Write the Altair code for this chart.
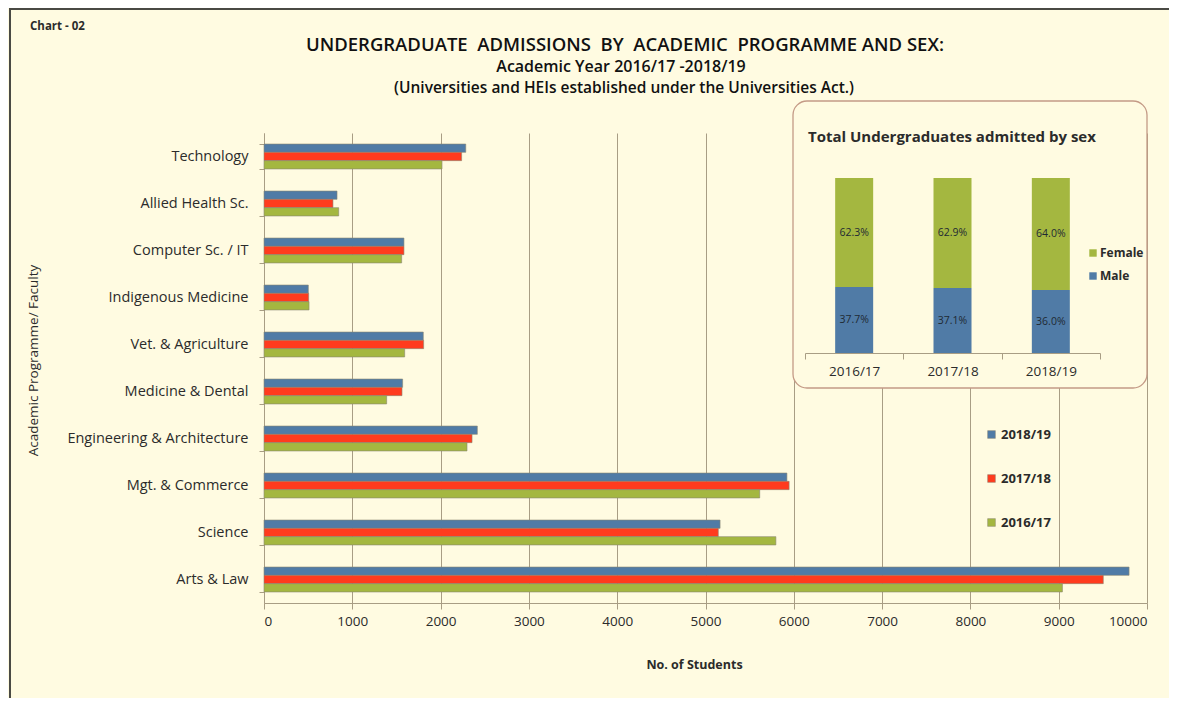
import altair as alt
import pandas as pd

# ---------------- data ----------------
categories = [
    "Technology", "Allied Health Sc.", "Computer Sc. / IT", "Indigenous Medicine",
    "Vet. & Agriculture", "Medicine & Dental", "Engineering & Architecture",
    "Mgt. & Commerce", "Science", "Arts & Law",
]
years = ["2018/19", "2017/18", "2016/17"]
students_2018_19 = [2285, 827, 1585, 502, 1804, 1570, 2416, 5922, 5165, 9797]
students_2017_18 = [2238, 781, 1585, 506, 1808, 1563, 2356, 5947, 5145, 9505]
students_2016_17 = [2016, 846, 1559, 510, 1593, 1389, 2299, 5614, 5797, 9042]
x_ticks = [0, 1000, 2000, 3000, 4000, 5000, 6000, 7000, 8000, 9000, 10000]

inset_years = ["2016/17", "2017/18", "2018/19"]
male_pct = [37.7, 37.1, 36.0]
female_pct = [62.3, 62.9, 64.0]
sexes = ["Female", "Male"]

title_lines = [
    "UNDERGRADUATE\u00a0 ADMISSIONS\u00a0 BY\u00a0 ACADEMIC\u00a0 PROGRAMME AND SEX:",
    "Academic Year 2016/17 -2018/19",
    "(Universities and HEIs established under the Universities Act.)",
]

# ---------------- style ----------------
BG = "#FFFBE1"
BLUE = "#507BA6"
RED = "#FF3B1E"
GREEN = "#A4B740"
GRID = "#A89D84"
FONT = "Open Sans"
TXT = "#2b2b2b"

rows = []
for yr, vals in zip(years, [students_2018_19, students_2017_18, students_2016_17]):
    for c, v in zip(categories, vals):
        rows.append({"Programme": c, "Year": yr, "Students": v})
main_df = pd.DataFrame(rows)

inset_rows = []
for yr, m, f in zip(inset_years, male_pct, female_pct):
    inset_rows.append({"Year": yr, "Sex": "Male", "Pct": m, "order": 0})
    inset_rows.append({"Year": yr, "Sex": "Female", "Pct": f, "order": 1})
inset_df = pd.DataFrame(inset_rows)

H = 470
W = 883

main = alt.Chart(main_df).mark_bar(stroke="#8a8672", strokeWidth=0.6).encode(
    x=alt.X(
        "Students:Q",
        scale=alt.Scale(domain=[0, 10000], nice=False),
        axis=alt.Axis(
            values=x_ticks, format="d", grid=True, gridColor=GRID, gridWidth=1,
            domainColor=GRID, tickColor=GRID, tickSize=6,
            labelFont=FONT, labelFontSize=13.5, labelColor=TXT, labelPadding=5,
            title="No. of Students", titleFont=FONT, titleFontSize=12.5,
            titleFontWeight="bold", titleColor=TXT, titleX=430, titleAlign="center",
            titlePadding=31,
        ),
    ),
    y=alt.Y(
        "Programme:N", sort=categories,
        scale=alt.Scale(paddingInner=0.47, paddingOuter=0.235),
        axis=alt.Axis(
            tickBand="extent", domainColor=GRID, tickColor=GRID, tickSize=5,
            labelFont=FONT, labelFontSize=14.5, labelColor=TXT, labelPadding=11,
            labelLimit=300,
            title="Academic Programme/ Faculty", titleFont=FONT, titleFontSize=13.5,
            titleFontWeight="normal", titleColor=TXT, titleX=-231, titleY=227,
            titleAngle=-90, titleAlign="center", titleBaseline="middle",
        ),
    ),
    yOffset=alt.YOffset("Year:N", sort=years, scale=alt.Scale(paddingInner=0, paddingOuter=0)),
    color=alt.Color(
        "Year:N", sort=years,
        scale=alt.Scale(domain=years, range=[BLUE, RED, GREEN]),
        legend=alt.Legend(
            title=None, orient="none", legendX=721, legendY=295,
            symbolType="square", symbolSize=60, symbolStrokeWidth=0.5,
            labelFont=FONT, labelFontSize=13, labelFontWeight="bold", labelColor=TXT,
            rowPadding=30, labelOffset=3,
        ),
    ),
)

box = alt.Chart(pd.DataFrame({"k": [0]})).mark_rect(
    fill=BG, stroke="#C49A86", strokeWidth=1.3, cornerRadius=14
).encode(x=alt.value(529), x2=alt.value(883), y=alt.value(-32), y2=alt.value(255))

inset_title = alt.Chart(pd.DataFrame({"t": ["Total Undergraduates admitted by sex"]})).mark_text(
    font=FONT, fontSize=15, fontWeight="bold", color=TXT, align="left", baseline="middle"
).encode(x=alt.value(544), y=alt.value(4), text="t:N")

inset_base = alt.Chart(inset_df).transform_stack(
    stack="Pct", groupby=["Year"], as_=["p0", "p1"], sort=[alt.SortField("order", order="ascending")]
).transform_calculate(
    mid="(datum.p0 + datum.p1) / 2",
    label="format(datum.Pct, '.1f') + '%'",
)

inset_x = alt.X(
    "Year:N", sort=inset_years,
    scale=alt.Scale(domain=inset_years, range=[541, 836], paddingInner=0, paddingOuter=0),
    axis=alt.Axis(
        orient="bottom", offset=-(H - 220), tickBand="extent", grid=False, zindex=1,
        domainColor=GRID, tickColor=GRID, tickSize=6, labelAngle=0,
        labelFont=FONT, labelFontSize=13.5, labelColor=TXT, labelPadding=5, title=None,
    ),
)
inset_y_scale = alt.Scale(domain=[0, 100], range=[220, 45], nice=False)

inset_bars = inset_base.mark_bar(width=38).encode(
    x=inset_x,
    y=alt.Y("p0:Q", scale=inset_y_scale, axis=None),
    y2="p1:Q",
    color=alt.Color(
        "Sex:N",
        scale=alt.Scale(domain=sexes, range=[GREEN, BLUE]),
        legend=alt.Legend(
            title=None, orient="none", legendX=823, legendY=114,
            symbolType="square", symbolSize=55, symbolStrokeWidth=0,
            labelFont=FONT, labelFontSize=12, labelFontWeight="bold", labelColor=TXT,
            rowPadding=11, labelOffset=1,
        ),
    ),
)
inset_text = inset_base.mark_text(font=FONT, fontSize=10.5, color="#1f2a33").encode(
    x=alt.X("Year:N", sort=inset_years),
    y=alt.Y("mid:Q"),
    text="label:N",
)
inset = alt.layer(inset_bars, inset_text)

chart_label = alt.Chart(pd.DataFrame({"t": ["Chart - 02"]})).mark_text(
    font=FONT, fontSize=11.5, fontWeight="bold", color=TXT, align="left", baseline="middle"
).encode(x=alt.value(-234), y=alt.value(-106), text="t:N")

title_main = alt.Chart(pd.DataFrame({"t": [title_lines[0]]})).mark_text(
    font=FONT, fontSize=18.5, fontWeight=600, color="#111", align="center", baseline="middle"
).encode(x=alt.value(361), y=alt.value(-88), text="t:N")
title_sub1 = alt.Chart(pd.DataFrame({"t": [title_lines[1]]})).mark_text(
    font=FONT, fontSize=16, fontWeight=600, color="#111", align="center", baseline="middle"
).encode(x=alt.value(357), y=alt.value(-66), text="t:N")
title_sub2 = alt.Chart(pd.DataFrame({"t": [title_lines[2]]})).mark_text(
    font=FONT, fontSize=15.5, fontWeight=600, color="#111", align="center", baseline="middle"
).encode(x=alt.value(360), y=alt.value(-45), text="t:N")

border = alt.Chart(pd.DataFrame({"k": [0]})).mark_rect(
    fill=None, stroke="#4a4a44", strokeWidth=2
).encode(x=alt.value(-254), x2=alt.value(960), y=alt.value(-124), y2=alt.value(640))

chart = alt.layer(
    main, box, inset_title, inset, chart_label, title_main, title_sub1, title_sub2, border
).resolve_scale(
    x="independent", y="independent", color="independent"
).properties(
    width=W, height=H,
    autosize=alt.AutoSizeParams(type="none"),
    padding={"left": 256, "top": 125, "right": 22, "bottom": 95},
    background=BG,
).configure_view(stroke=None)

chart.save("out.html", embed_options={"renderer": "svg", "actions": False})
